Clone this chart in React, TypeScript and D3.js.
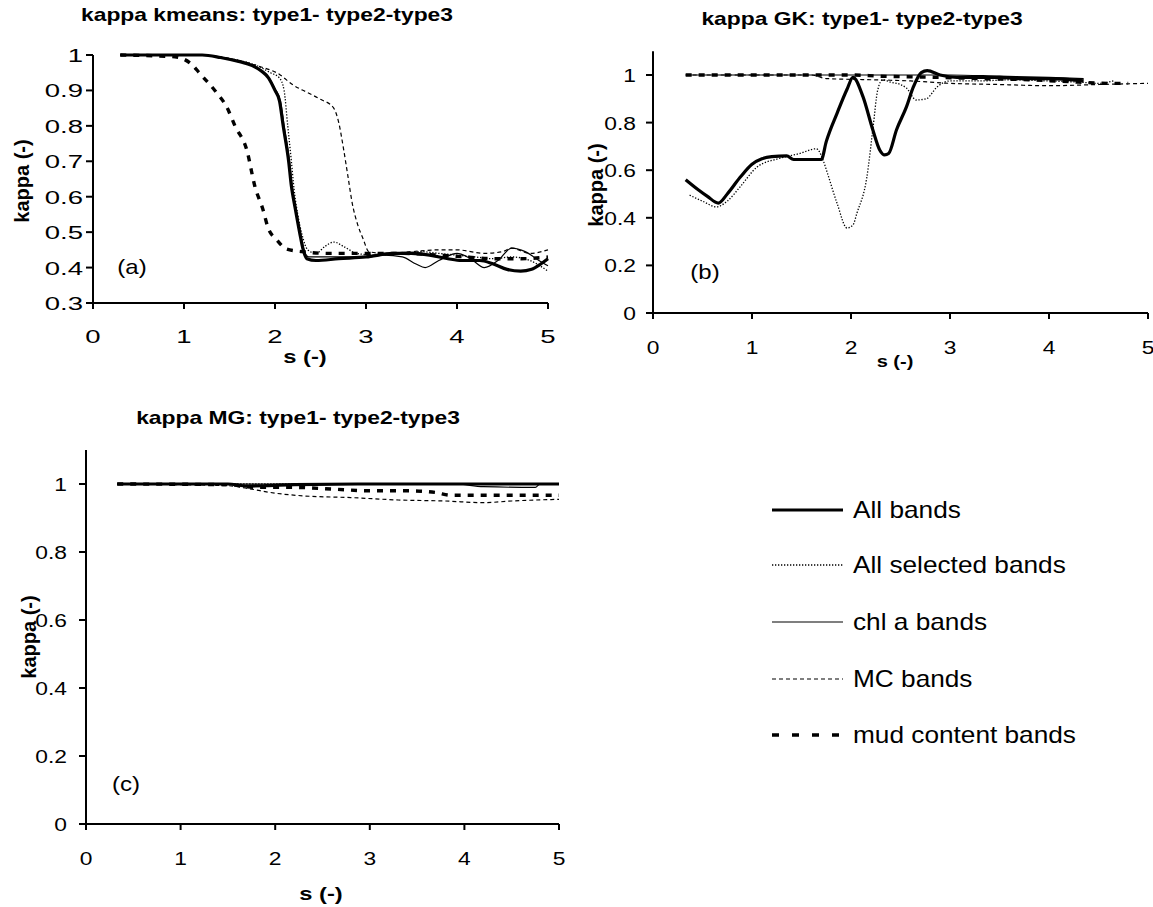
import React from "react";
import * as d3 from "d3";

// ---------- data ----------
const S_TICKS = [0, 1, 2, 3, 4, 5];
const K_TICKS_A = [0.3, 0.4, 0.5, 0.6, 0.7, 0.8, 0.9, 1];
const K_TICKS_BC = [0, 0.2, 0.4, 0.6, 0.8, 1];

const SERIES_NAMES = ["All bands", "All selected bands", "chl a bands", "MC bands", "mud content bands"];

// panel (a) kmeans: [s, kappa]
const kmeansAll: [number, number][] = [[0.3, 1], [1.2, 1], [1.4, 0.993], [1.6, 0.982], [1.75, 0.97], [1.85, 0.955], [1.93, 0.935], [2.0, 0.9], [2.05, 0.87], [2.09, 0.8], [2.15, 0.7], [2.18, 0.63], [2.22, 0.57], [2.27, 0.5], [2.31, 0.45], [2.35, 0.425], [2.45, 0.42], [2.7, 0.425], [3.0, 0.43], [3.3, 0.44], [3.5, 0.44], [3.7, 0.435], [3.9, 0.425], [4.05, 0.42], [4.25, 0.42], [4.4, 0.41], [4.55, 0.395], [4.7, 0.39], [4.82, 0.395], [4.92, 0.41], [5.0, 0.425]];
const kmeansSel: [number, number][] = [[0.3, 1], [1.2, 1], [1.4, 0.993], [1.6, 0.985], [1.8, 0.97], [1.95, 0.95], [2.05, 0.935], [2.1, 0.9], [2.14, 0.8], [2.18, 0.7], [2.21, 0.62], [2.25, 0.55], [2.3, 0.49], [2.36, 0.45], [2.45, 0.44], [2.55, 0.46], [2.65, 0.472], [2.75, 0.46], [2.9, 0.44], [3.1, 0.435], [3.4, 0.44], [3.6, 0.445], [3.8, 0.44], [4.0, 0.435], [4.2, 0.43], [4.4, 0.425], [4.6, 0.43], [4.8, 0.42], [5.0, 0.39]];
const kmeansChl: [number, number][] = [[0.3, 1], [1.2, 1], [1.4, 0.994], [1.6, 0.983], [1.75, 0.971], [1.85, 0.957], [1.93, 0.937], [2.0, 0.905], [2.06, 0.87], [2.1, 0.8], [2.16, 0.7], [2.19, 0.63], [2.23, 0.57], [2.28, 0.5], [2.32, 0.45], [2.37, 0.43], [2.7, 0.43], [3.0, 0.43], [3.2, 0.435], [3.4, 0.43], [3.55, 0.41], [3.65, 0.4], [3.8, 0.42], [4.0, 0.44], [4.15, 0.425], [4.3, 0.4], [4.45, 0.42], [4.6, 0.455], [4.75, 0.445], [4.9, 0.42], [5.0, 0.405]];
const kmeansMC: [number, number][] = [[0.3, 1], [1.2, 1], [1.5, 0.99], [1.8, 0.97], [2.05, 0.945], [2.2, 0.915], [2.35, 0.895], [2.5, 0.875], [2.64, 0.852], [2.7, 0.81], [2.75, 0.74], [2.8, 0.66], [2.85, 0.58], [2.91, 0.52], [2.97, 0.48], [3.03, 0.445], [3.2, 0.44], [3.5, 0.445], [3.8, 0.45], [4.0, 0.45], [4.3, 0.44], [4.5, 0.445], [4.6, 0.455], [4.8, 0.44], [5.0, 0.45]];
const kmeansMud: [number, number][] = [[0.3, 1], [0.9, 0.995], [1.0, 0.988], [1.1, 0.97], [1.16, 0.952], [1.36, 0.893], [1.47, 0.853], [1.56, 0.8], [1.69, 0.732], [1.78, 0.628], [1.87, 0.562], [1.92, 0.515], [2.02, 0.478], [2.13, 0.452], [2.3, 0.445], [2.6, 0.44], [3.0, 0.44], [3.4, 0.44], [3.8, 0.435], [4.1, 0.43], [4.4, 0.425], [4.7, 0.425], [5.0, 0.43]];

// panel (b) GK
const gkAll: [number, number][] = [[0.33, 0.56], [0.45, 0.52], [0.55, 0.49], [0.66, 0.462], [0.75, 0.5], [0.88, 0.57], [1.0, 0.625], [1.1, 0.648], [1.2, 0.657], [1.35, 0.66], [1.42, 0.645], [1.7, 0.645], [1.75, 0.72], [1.86, 0.84], [1.96, 0.94], [2.02, 0.99], [2.12, 0.91], [2.22, 0.77], [2.29, 0.685], [2.34, 0.664], [2.38, 0.67], [2.46, 0.77], [2.56, 0.866], [2.63, 0.95], [2.71, 1.01], [2.77, 1.018], [2.9, 1.0], [3.07, 0.99], [3.5, 0.99], [3.7, 0.985], [4.0, 0.985], [4.35, 0.975]];
const gkSel: [number, number][] = [[0.37, 0.495], [0.5, 0.47], [0.64, 0.446], [0.75, 0.47], [0.88, 0.53], [1.05, 0.613], [1.28, 0.65], [1.48, 0.67], [1.65, 0.69], [1.72, 0.64], [1.76, 0.59], [1.86, 0.46], [1.96, 0.357], [2.02, 0.37], [2.06, 0.42], [2.16, 0.57], [2.22, 0.77], [2.27, 0.937], [2.32, 0.98], [2.4, 0.97], [2.5, 0.96], [2.56, 0.945], [2.66, 0.895], [2.76, 0.9], [2.87, 0.95], [3.0, 0.975], [3.3, 0.975], [3.6, 0.98], [4.0, 0.975], [4.3, 0.97], [4.5, 0.965], [4.65, 0.975]];
const gkChl: [number, number][] = [[0.33, 1.0], [3.0, 1.0], [3.5, 0.995], [4.0, 0.99], [4.35, 0.985]];
const gkMC: [number, number][] = [[0.33, 1.0], [1.6, 1.0], [1.75, 0.985], [2.2, 0.98], [2.6, 0.975], [3.0, 0.965], [3.5, 0.96], [4.0, 0.955], [4.5, 0.96], [5.0, 0.965]];
const gkMud: [number, number][] = [[0.33, 1.0], [2.0, 1.0], [2.3, 0.995], [2.9, 0.99], [3.3, 0.985], [3.8, 0.98], [4.3, 0.97], [4.6, 0.965], [4.8, 0.965]];

// panel (c) MG
const mgAll: [number, number][] = [[0.33, 1], [1.5, 1], [1.7, 0.994], [1.9, 0.995], [2.2, 0.998], [3.0, 1.0], [4.0, 1.0], [5.0, 1.0]];
const mgSel: [number, number][] = [[0.33, 1], [2.5, 1], [5.0, 1.0]];
const mgChl: [number, number][] = [[0.33, 1], [3.9, 1], [4.2, 0.992], [4.75, 0.99], [4.8, 1.0], [5, 1]];
const mgMC: [number, number][] = [[0.33, 1], [1.5, 0.995], [1.75, 0.985], [1.95, 0.975], [2.3, 0.965], [2.8, 0.96], [3.3, 0.953], [3.8, 0.95], [4.2, 0.945], [4.5, 0.95], [5.0, 0.955]];
const mgMud: [number, number][] = [[0.33, 1], [1.5, 0.998], [1.8, 0.99], [2.2, 0.99], [2.6, 0.985], [3.0, 0.98], [3.4, 0.98], [3.7, 0.975], [3.85, 0.967], [4.4, 0.967], [5.0, 0.967]];

// ---------- styles ----------
const FONT = "'Liberation Sans', Arial, sans-serif";
const STYLE = [
  { w: 3.2, dash: undefined as string | undefined },
  { w: 1.3, dash: "1.3 1.7" },
  { w: 1.2, dash: undefined },
  { w: 1.2, dash: "4 3" },
  { w: 3.4, dash: "6 7" },
];
const DRAW_ORDER = [0, 4, 2, 3, 1];

function T(props: {
  x: number; y: number; sx?: number; size: number; bold?: boolean;
  anchor?: string; rotate?: number; children: React.ReactNode;
}) {
  const { x, y, sx = 1.25, size, bold, anchor = "middle", rotate } = props;
  const tr = rotate !== undefined
    ? `translate(${x},${y}) rotate(${rotate})`
    : `translate(${x},${y}) scale(${sx},1)`;
  return (
    <text transform={tr} fontFamily={FONT} fontSize={size} fontWeight={bold ? "bold" : "normal"}
      textAnchor={anchor} fill="#000">{props.children}</text>
  );
}

type PanelProps = {
  x0: number; x1: number; yb: number; yt: number; kDomain: [number, number]; axisTop: number;
  kTicks: number[]; series: [number, number][][]; title: string; titleX: number; titleY: number;
  letter: string; letterX: number; letterY: number; ylabX: number; ylabY: number;
  xlabX: number; xlabY: number; xlabSize: number; yTickEnd: number; xTickY: number; tickSx: number;
};

function Panel(p: PanelProps) {
  const x = d3.scaleLinear().domain([0, 5]).range([p.x0, p.x1]);
  const y = d3.scaleLinear().domain(p.kDomain).range([p.yb, p.yt]);
  const line = d3.line<[number, number]>().x(d => x(d[0])).y(d => y(d[1])).curve(d3.curveMonotoneX);
  const fmt = (v: number) => (Math.abs(v - Math.round(v)) < 1e-9 ? String(Math.round(v)) : v.toFixed(1));
  return (
    <g>
      {DRAW_ORDER.map(i => (
        <path key={i} d={line(p.series[i]) || ""} fill="none" stroke="#000"
          strokeWidth={STYLE[i].w} strokeDasharray={STYLE[i].dash} strokeLinejoin="round" />
      ))}
      {/* axes */}
      <line x1={p.x0} x2={p.x0} y1={p.yb} y2={y(p.axisTop)} stroke="#000" strokeWidth={2} />
      <line x1={p.x0} x2={p.x1} y1={p.yb} y2={p.yb} stroke="#000" strokeWidth={2} />
      {p.kTicks.map(t => (
        <g key={"k" + t}>
          <line x1={p.x0 - 7} x2={p.x0} y1={y(t)} y2={y(t)} stroke="#000" strokeWidth={2} />
          <T x={p.yTickEnd} y={y(t) + 7} size={19} anchor="end" sx={p.tickSx}>{fmt(t)}</T>
        </g>
      ))}
      {S_TICKS.map(t => (
        <g key={"s" + t}>
          <line x1={x(t)} x2={x(t)} y1={p.yb} y2={p.yb + 6} stroke="#000" strokeWidth={2} />
          <T x={x(t)} y={p.xTickY} size={19} sx={p.tickSx}>{String(t)}</T>
        </g>
      ))}
      <T x={p.titleX} y={p.titleY} size={18} bold sx={1.27}>{p.title}</T>
      <T x={p.ylabX} y={p.ylabY} size={20} bold rotate={-90}>kappa (-)</T>
      <T x={p.xlabX} y={p.xlabY} size={p.xlabSize} bold sx={1.25}>s (-)</T>
      <T x={p.letterX} y={p.letterY} size={20} sx={1.2}>{p.letter}</T>
    </g>
  );
}

export default function App() {
  const lx0 = 772, lx1 = 843, ltx = 853;
  const rows = [510, 565, 622, 679, 735];
  return (
    <svg width={1153} height={907} style={{ position: "absolute", left: 0, top: 0, background: "#fff" }}>
      <rect width={1153} height={907} fill="#fff" />
      <Panel x0={93} x1={548} yb={303} yt={55} kDomain={[0.3, 1]} axisTop={1} kTicks={K_TICKS_A}
        series={[kmeansAll, kmeansSel, kmeansChl, kmeansMC, kmeansMud]}
        title="kappa kmeans: type1- type2-type3" titleX={267} titleY={21}
        letter="(a)" letterX={132} letterY={274} ylabX={29} ylabY={181}
        xlabX={305} xlabY={363} xlabSize={19} yTickEnd={83} xTickY={343} tickSx={1.45} />
      <Panel x0={653} x1={1148} yb={313} yt={75} kDomain={[0, 1]} axisTop={1.1} kTicks={K_TICKS_BC}
        series={[gkAll, gkSel, gkChl, gkMC, gkMud]}
        title="kappa GK: type1- type2-type3" titleX={862} titleY={25}
        letter="(b)" letterX={705} letterY={279} ylabX={603} ylabY={185}
        xlabX={895} xlabY={367} xlabSize={16} yTickEnd={636} xTickY={354} tickSx={1.2} />
      <Panel x0={86} x1={559} yb={824} yt={484} kDomain={[0, 1]} axisTop={1.1} kTicks={K_TICKS_BC}
        series={[mgAll, mgSel, mgChl, mgMC, mgMud]}
        title="kappa MG: type1- type2-type3" titleX={298} titleY={424}
        letter="(c)" letterX={126} letterY={791} ylabX={36} ylabY={637}
        xlabX={321} xlabY={900} xlabSize={19} yTickEnd={67} xTickY={865} tickSx={1.2} />
      {/* legend */}
      {SERIES_NAMES.map((name, i) => (
        <g key={name}>
          <line x1={lx0} x2={lx1} y1={rows[i]} y2={rows[i]} stroke="#000" strokeWidth={STYLE[i].w}
            strokeDasharray={i === 4 ? "7 13" : STYLE[i].dash} />
          <T x={ltx} y={rows[i] + 8} size={23} anchor="start" sx={1.14}>{name}</T>
        </g>
      ))}
    </svg>
  );
}
